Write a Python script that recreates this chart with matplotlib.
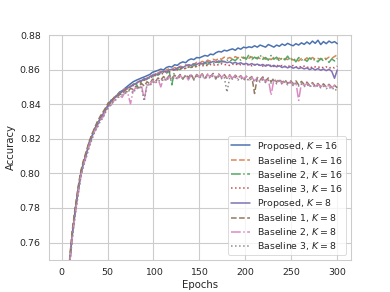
import matplotlib
matplotlib.use("Agg")
import matplotlib.pyplot as plt
import seaborn as sns

epochs = list(range(3, 301, 3))

proposed_16 = [
    0.6900, 0.7260, 0.7500, 0.7665, 0.7795, 0.7905, 0.8000, 0.8065, 0.8115, 0.8170,
    0.8215, 0.8255, 0.8285, 0.8315, 0.8340, 0.8370, 0.8400, 0.8420, 0.8435, 0.8450,
    0.8470, 0.8478, 0.8492, 0.8505, 0.8518, 0.8530, 0.8538, 0.8545, 0.8552, 0.8558,
    0.8565, 0.8572, 0.8585, 0.8590, 0.8596, 0.8603, 0.8598, 0.8612, 0.8618, 0.8615,
    0.8628, 0.8625, 0.8638, 0.8645, 0.8640, 0.8655, 0.8662, 0.8658, 0.8670, 0.8668,
    0.8675, 0.8682, 0.8678, 0.8690, 0.8686, 0.8698, 0.8705, 0.8702, 0.8712, 0.8708,
    0.8715, 0.8720, 0.8712, 0.8725, 0.8718, 0.8730, 0.8726, 0.8732, 0.8728, 0.8738,
    0.8730, 0.8742, 0.8736, 0.8730, 0.8745, 0.8738, 0.8730, 0.8742, 0.8735, 0.8748,
    0.8740, 0.8752, 0.8744, 0.8738, 0.8750, 0.8742, 0.8755, 0.8746, 0.8760, 0.8748,
    0.8765, 0.8752, 0.8770, 0.8745, 0.8762, 0.8750, 0.8765, 0.8755, 0.8762, 0.8750,
]
baseline1_16 = [
    0.6880, 0.7250, 0.7515, 0.7680, 0.7790, 0.7915, 0.8010, 0.8060, 0.8125, 0.8160,
    0.8230, 0.8245, 0.8295, 0.8310, 0.8350, 0.8365, 0.8405, 0.8410, 0.8440, 0.8445,
    0.8465, 0.8470, 0.8490, 0.8488, 0.8505, 0.8512, 0.8525, 0.8530, 0.8540, 0.8538,
    0.8552, 0.8558, 0.8570, 0.8565, 0.8582, 0.8590, 0.8585, 0.8598, 0.8605, 0.8600,
    0.8612, 0.8608, 0.8620, 0.8615, 0.8628, 0.8622, 0.8635, 0.8630, 0.8642, 0.8636,
    0.8648, 0.8642, 0.8655, 0.8648, 0.8660, 0.8654, 0.8665, 0.8660, 0.8672, 0.8664,
    0.8670, 0.8662, 0.8675, 0.8668, 0.8676, 0.8665, 0.8672, 0.8666, 0.8674, 0.8662,
    0.8670, 0.8664, 0.8672, 0.8660, 0.8668, 0.8658, 0.8670, 0.8662, 0.8666, 0.8655,
    0.8664, 0.8658, 0.8668, 0.8655, 0.8662, 0.8650, 0.8664, 0.8656, 0.8668, 0.8658,
    0.8670, 0.8660, 0.8665, 0.8658, 0.8670, 0.8662, 0.8672, 0.8665, 0.8676, 0.8685,
]
baseline2_16 = [
    0.6870, 0.7240, 0.7490, 0.7650, 0.7800, 0.7890, 0.7995, 0.8070, 0.8105, 0.8180,
    0.8205, 0.8260, 0.8275, 0.8320, 0.8335, 0.8375, 0.8395, 0.8425, 0.8430, 0.8455,
    0.8460, 0.8475, 0.8480, 0.8495, 0.8500, 0.8515, 0.8520, 0.8490, 0.8535, 0.8545,
    0.8540, 0.8555, 0.8560, 0.8572, 0.8568, 0.8580, 0.8585, 0.8578, 0.8592, 0.8512,
    0.8598, 0.8605, 0.8600, 0.8612, 0.8608, 0.8618, 0.8612, 0.8625, 0.8620, 0.8630,
    0.8625, 0.8638, 0.8630, 0.8642, 0.8635, 0.8648, 0.8640, 0.8652, 0.8645, 0.8655,
    0.8648, 0.8660, 0.8652, 0.8668, 0.8655, 0.8672, 0.8660, 0.8688, 0.8658, 0.8672,
    0.8662, 0.8685, 0.8660, 0.8670, 0.8655, 0.8682, 0.8660, 0.8672, 0.8650, 0.8668,
    0.8656, 0.8678, 0.8652, 0.8666, 0.8645, 0.8670, 0.8655, 0.8662, 0.8648, 0.8668,
    0.8652, 0.8660, 0.8645, 0.8665, 0.8650, 0.8660, 0.8642, 0.8662, 0.8650, 0.8665,
]
baseline3_16 = [
    0.6890, 0.7255, 0.7505, 0.7670, 0.7785, 0.7900, 0.8005, 0.8055, 0.8120, 0.8165,
    0.8220, 0.8250, 0.8285, 0.8305, 0.8345, 0.8360, 0.8400, 0.8418, 0.8435, 0.8450,
    0.8462, 0.8472, 0.8485, 0.8492, 0.8502, 0.8508, 0.8520, 0.8526, 0.8532, 0.8540,
    0.8548, 0.8552, 0.8560, 0.8568, 0.8575, 0.8570, 0.8582, 0.8588, 0.8585, 0.8595,
    0.8600, 0.8598, 0.8606, 0.8610, 0.8604, 0.8615, 0.8612, 0.8620, 0.8615, 0.8625,
    0.8620, 0.8628, 0.8622, 0.8630, 0.8624, 0.8632, 0.8626, 0.8634, 0.8628, 0.8630,
    0.8624, 0.8632, 0.8626, 0.8635, 0.8628, 0.8632, 0.8625, 0.8630, 0.8622, 0.8630,
    0.8624, 0.8628, 0.8620, 0.8628, 0.8622, 0.8626, 0.8618, 0.8625, 0.8620, 0.8624,
    0.8616, 0.8622, 0.8618, 0.8624, 0.8615, 0.8620, 0.8614, 0.8620, 0.8612, 0.8618,
    0.8610, 0.8616, 0.8612, 0.8618, 0.8610, 0.8616, 0.8608, 0.8615, 0.8610, 0.8620,
]
proposed_8 = [
    0.6885, 0.7245, 0.7495, 0.7660, 0.7780, 0.7895, 0.7990, 0.8068, 0.8110, 0.8175,
    0.8210, 0.8258, 0.8280, 0.8318, 0.8338, 0.8372, 0.8392, 0.8422, 0.8432, 0.8448,
    0.8458, 0.8476, 0.8482, 0.8496, 0.8500, 0.8514, 0.8518, 0.8532, 0.8536, 0.8548,
    0.8545, 0.8560, 0.8565, 0.8575, 0.8572, 0.8585, 0.8590, 0.8586, 0.8598, 0.8602,
    0.8598, 0.8610, 0.8615, 0.8612, 0.8622, 0.8628, 0.8624, 0.8634, 0.8630, 0.8638,
    0.8632, 0.8642, 0.8645, 0.8640, 0.8648, 0.8642, 0.8650, 0.8644, 0.8648, 0.8640,
    0.8645, 0.8636, 0.8642, 0.8634, 0.8640, 0.8630, 0.8636, 0.8628, 0.8635, 0.8626,
    0.8632, 0.8624, 0.8630, 0.8620, 0.8628, 0.8618, 0.8625, 0.8616, 0.8622, 0.8612,
    0.8620, 0.8610, 0.8618, 0.8608, 0.8615, 0.8606, 0.8612, 0.8604, 0.8610, 0.8600,
    0.8608, 0.8598, 0.8606, 0.8596, 0.8604, 0.8594, 0.8602, 0.8590, 0.8550, 0.8598,
]
baseline1_8 = [
    0.6875, 0.7265, 0.7520, 0.7685, 0.7810, 0.7920, 0.8015, 0.8078, 0.8130, 0.8185,
    0.8225, 0.8265, 0.8300, 0.8330, 0.8355, 0.8380, 0.8410, 0.8400, 0.8438, 0.8440,
    0.8455, 0.8462, 0.8478, 0.8470, 0.8492, 0.8485, 0.8505, 0.8495, 0.8520, 0.8505,
    0.8530, 0.8518, 0.8545, 0.8530, 0.8552, 0.8540, 0.8560, 0.8545, 0.8565, 0.8550,
    0.8568, 0.8552, 0.8572, 0.8545, 0.8570, 0.8555, 0.8575, 0.8540, 0.8572, 0.8558,
    0.8576, 0.8550, 0.8574, 0.8560, 0.8578, 0.8548, 0.8575, 0.8556, 0.8572, 0.8550,
    0.8570, 0.8545, 0.8568, 0.8552, 0.8565, 0.8540, 0.8562, 0.8548, 0.8560, 0.8462,
    0.8555, 0.8540, 0.8558, 0.8535, 0.8552, 0.8530, 0.8550, 0.8528, 0.8545, 0.8525,
    0.8542, 0.8520, 0.8538, 0.8518, 0.8535, 0.8512, 0.8532, 0.8515, 0.8528, 0.8508,
    0.8525, 0.8505, 0.8520, 0.8502, 0.8518, 0.8500, 0.8515, 0.8498, 0.8510, 0.8495,
]
baseline2_8 = [
    0.6865, 0.7235, 0.7485, 0.7645, 0.7770, 0.7880, 0.7985, 0.8050, 0.8100, 0.8160,
    0.8200, 0.8245, 0.8270, 0.8310, 0.8325, 0.8360, 0.8385, 0.8395, 0.8420, 0.8435,
    0.8450, 0.8440, 0.8470, 0.8465, 0.8402, 0.8480, 0.8495, 0.8488, 0.8510, 0.8425,
    0.8520, 0.8512, 0.8535, 0.8525, 0.8545, 0.8500, 0.8552, 0.8540, 0.8558, 0.8545,
    0.8562, 0.8548, 0.8565, 0.8550, 0.8568, 0.8540, 0.8570, 0.8552, 0.8568, 0.8555,
    0.8572, 0.8545, 0.8570, 0.8558, 0.8574, 0.8552, 0.8568, 0.8556, 0.8570, 0.8548,
    0.8566, 0.8552, 0.8564, 0.8545, 0.8562, 0.8548, 0.8560, 0.8540, 0.8556, 0.8535,
    0.8552, 0.8530, 0.8550, 0.8528, 0.8546, 0.8452, 0.8542, 0.8525, 0.8538, 0.8520,
    0.8535, 0.8515, 0.8530, 0.8512, 0.8526, 0.8422, 0.8522, 0.8508, 0.8520, 0.8505,
    0.8518, 0.8502, 0.8515, 0.8500, 0.8512, 0.8498, 0.8510, 0.8495, 0.8508, 0.8500,
]
baseline3_8 = [
    0.6860, 0.7230, 0.7480, 0.7640, 0.7765, 0.7875, 0.7980, 0.8045, 0.8095, 0.8150,
    0.8195, 0.8240, 0.8265, 0.8300, 0.8320, 0.8355, 0.8380, 0.8405, 0.8415, 0.8430,
    0.8445, 0.8455, 0.8462, 0.8475, 0.8480, 0.8465, 0.8490, 0.8500, 0.8495, 0.8418,
    0.8515, 0.8505, 0.8530, 0.8520, 0.8540, 0.8530, 0.8548, 0.8535, 0.8555, 0.8540,
    0.8558, 0.8545, 0.8560, 0.8548, 0.8562, 0.8550, 0.8565, 0.8545, 0.8562, 0.8552,
    0.8565, 0.8548, 0.8560, 0.8550, 0.8563, 0.8545, 0.8560, 0.8548, 0.8558, 0.8470,
    0.8555, 0.8545, 0.8556, 0.8540, 0.8552, 0.8538, 0.8550, 0.8535, 0.8548, 0.8532,
    0.8545, 0.8528, 0.8542, 0.8525, 0.8540, 0.8522, 0.8538, 0.8518, 0.8535, 0.8515,
    0.8530, 0.8512, 0.8526, 0.8508, 0.8522, 0.8505, 0.8518, 0.8502, 0.8515, 0.8500,
    0.8512, 0.8498, 0.8508, 0.8495, 0.8505, 0.8490, 0.8500, 0.8485, 0.8495, 0.8470,
]

series = [
    ("Proposed, $K=16$", proposed_16, "-"),
    ("Baseline 1, $K=16$", baseline1_16, "--"),
    ("Baseline 2, $K=16$", baseline2_16, "-."),
    ("Baseline 3, $K=16$", baseline3_16, ":"),
    ("Proposed, $K=8$", proposed_8, "-"),
    ("Baseline 1, $K=8$", baseline1_8, "--"),
    ("Baseline 2, $K=8$", baseline2_8, "-."),
    ("Baseline 3, $K=8$", baseline3_8, ":"),
]

sns.set_theme(style="whitegrid", context="notebook", palette="deep")
plt.rcParams['font.family'] = ['DejaVu Sans']
plt.rcParams['grid.linewidth'] = 1.3

fig, ax = plt.subplots(figsize=(390 / 61, 292 / 61), dpi=61)
colors = sns.color_palette("deep", 8)
for (label, vals, ls), c in zip(series, colors):
    ax.plot(epochs, vals, ls, color=c, label=label, linewidth=1.8)

ax.set_xlim(-13.95, 314.95)
ax.set_ylim(0.75, 0.88)
ax.set_xticks([0, 50, 100, 150, 200, 250, 300])
ax.set_yticks([0.76, 0.78, 0.80, 0.82, 0.84, 0.86, 0.88])
ax.set_xlabel("Epochs")
ax.set_ylabel("Accuracy")
ax.legend(loc="lower right", labelspacing=0.22, borderpad=0.35)
fig.savefig("out.png", dpi=61)
